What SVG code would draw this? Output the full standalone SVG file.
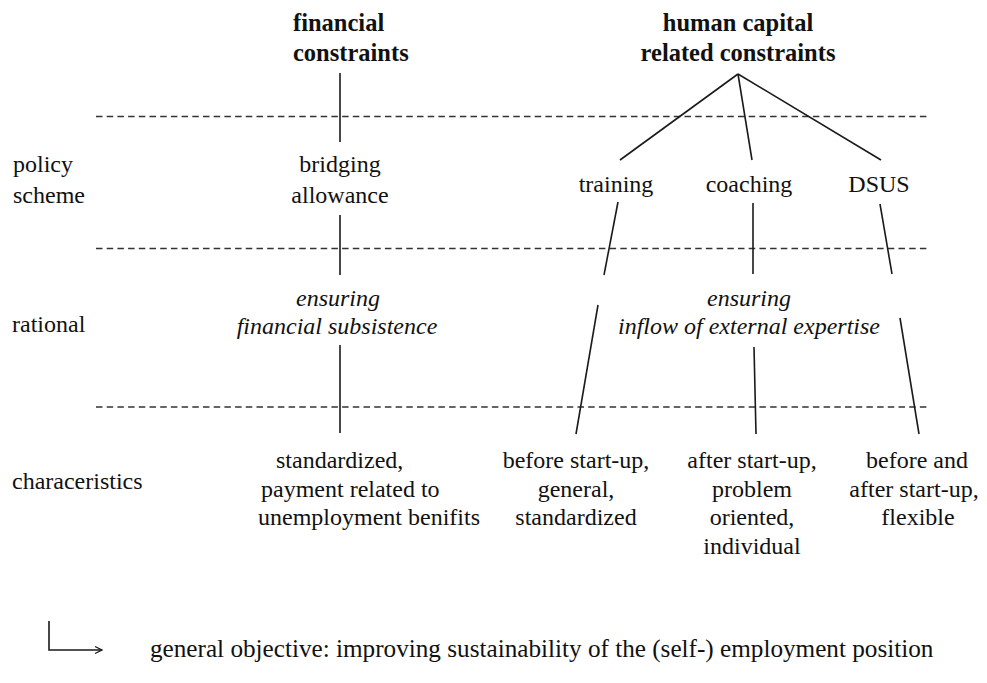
<svg xmlns="http://www.w3.org/2000/svg" width="987" height="683" viewBox="0 0 987 683">
<style>
text{font-family:"Liberation Serif","Times New Roman",serif;font-size:24px;fill:#111}
.b{font-weight:bold;font-size:24.5px}
.i{font-style:italic}
.m{text-anchor:middle}
.g{font-size:25.2px}
.ln{stroke:#1a1a1a;stroke-width:1.6;fill:none}
.dash{stroke:#333;stroke-width:1.6;stroke-dasharray:6.5 4.2;fill:none}
</style>
<defs>
<marker id="arr" viewBox="0 0 12 12" refX="11" refY="6" markerWidth="12" markerHeight="12" markerUnits="userSpaceOnUse" orient="auto">
<polyline points="4,2.5 11,6 4,9.5" fill="none" stroke="#1a1a1a" stroke-width="1.3"/>
</marker>
</defs>
<rect width="987" height="683" fill="#fff"/>
<g id="separators">
<line class="dash" x1="96" y1="116.5" x2="930" y2="116.5"/>
<line class="dash" x1="96" y1="248.5" x2="930" y2="248.5"/>
<line class="dash" x1="96" y1="407" x2="930" y2="407"/>
</g>
<g id="row-labels">
<text x="13" y="172">policy</text>
<text x="13" y="203">scheme</text>
<text x="12" y="332">rational</text>
<text x="12" y="489">characeristics</text>
</g>
<g id="connectors">
<line class="ln" x1="340" y1="73" x2="340" y2="142"/>
<line class="ln" x1="340" y1="215" x2="340" y2="275"/>
<line class="ln" x1="340" y1="345" x2="340" y2="433"/>
<line class="ln" x1="738" y1="74" x2="620" y2="160"/>
<line class="ln" x1="738" y1="74" x2="752" y2="160"/>
<line class="ln" x1="738" y1="74" x2="881" y2="160"/>
<line class="ln" x1="618" y1="202" x2="604" y2="275"/>
<line class="ln" x1="753" y1="203" x2="753" y2="274"/>
<line class="ln" x1="880" y1="204" x2="892" y2="274"/>
<line class="ln" x1="598" y1="305" x2="576" y2="434"/>
<line class="ln" x1="754" y1="347" x2="756" y2="434"/>
<line class="ln" x1="900" y1="318" x2="919" y2="434"/>
<polyline class="ln" points="49,621 49,650 102,650" marker-end="url(#arr)"/>
</g>
<g id="financial-constraints">
<text class="b" x="293" y="31">financial</text>
<text class="b" x="293" y="61">constraints</text>
</g>
<g id="human-capital-constraints">
<text class="b m" x="738" y="31">human capital</text>
<text class="b m" x="738" y="61">related constraints</text>
</g>
<g id="bridging-allowance">
<text class="m" x="340" y="172">bridging</text>
<text class="m" x="340" y="203">allowance</text>
</g>
<g id="training"><text class="m" x="616" y="192">training</text></g>
<g id="coaching"><text class="m" x="749" y="192">coaching</text></g>
<g id="dsus"><text class="m" x="879" y="192">DSUS</text></g>
<g id="rational-financial">
<text class="i m" x="338" y="306">ensuring</text>
<text class="i m" x="337" y="334">financial subsistence</text>
</g>
<g id="rational-human">
<text class="i m" x="749" y="306">ensuring</text>
<text class="i m" x="749" y="334">inflow of external expertise</text>
</g>
<g id="char-bridging">
<text x="276" y="468">standardized,</text>
<text x="261" y="497">payment related to</text>
<text x="258" y="525">unemployment benifits</text>
</g>
<g id="char-training">
<text class="m" x="576" y="468">before start-up,</text>
<text class="m" x="576" y="497">general,</text>
<text class="m" x="576" y="525">standardized</text>
</g>
<g id="char-coaching">
<text class="m" x="752" y="468">after start-up,</text>
<text class="m" x="752" y="497">problem</text>
<text class="m" x="752" y="525">oriented,</text>
<text class="m" x="752" y="554">individual</text>
</g>
<g id="char-dsus">
<text class="m" x="917" y="468">before and</text>
<text class="m" x="914" y="497">after start-up,</text>
<text class="m" x="918" y="525">flexible</text>
</g>
<g id="general-objective">
<text class="g" x="150" y="657">general objective: improving sustainability of the (self-) employment position</text>
</g>
</svg>
